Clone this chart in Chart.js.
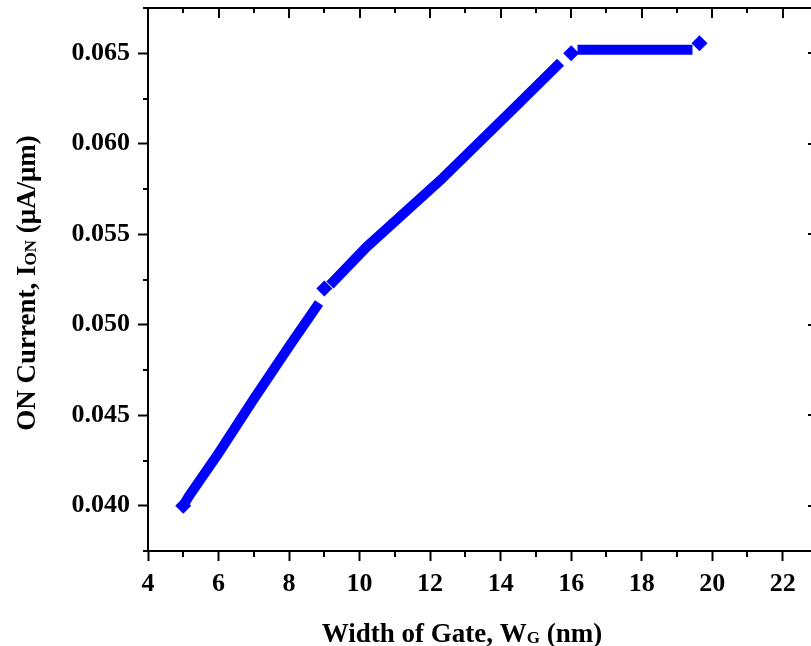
<!DOCTYPE html>
<html>
<head>
<meta charset="utf-8">
<script src="https://cdn.jsdelivr.net/npm/chart.js@4"></script>
<style>
  html, body { margin: 0; padding: 0; background: #fff; }
  #wrap { width: 811px; height: 646px; overflow: hidden; }
</style>
</head>
<body>
<div id="wrap"><canvas id="ioncurve" width="830" height="646"></canvas></div>
<script>
// gate width (nm) vs ON current (uA/um), three sweep segments
const lowW = [5.0, 5.15, 6.0, 7.0, 8.0, 8.85];
const lowI = [0.0400, 0.0405, 0.0429, 0.0459, 0.0488, 0.0512];
const midW = [9.16, 10.2, 12.3, 14.45, 15.7];
const midI = [0.0522, 0.0543, 0.0580, 0.0621, 0.0645];
const highW = [16.18, 19.44];
const highI = [0.0652, 0.0652];
// end points drawn as diamonds
const markW = [5.0, 9.0, 16.0, 19.64];
const markI = [0.0400, 0.0520, 0.0650, 0.06555];

// labelled ticks
const xTicks = [4, 6, 8, 10, 12, 14, 16, 18, 20, 22];
const yTicks = [0.040, 0.045, 0.050, 0.055, 0.060, 0.065];

const FONT = "'Liberation Serif', 'Times New Roman', serif";
const BLUE = "#0000ff";

function pts(xs, ys) {
  return xs.map((x, i) => ({ x: x, y: ys[i] }));
}

function segment(xs, ys) {
  return {
    type: "line",
    data: pts(xs, ys),
    borderColor: BLUE,
    borderWidth: 10,
    borderCapStyle: "butt",
    pointRadius: 0,
    tension: 0,
  };
}

// minor ticks sit halfway between the labelled ones
function minors(list, lo, hi) {
  const step = list[1] - list[0];
  const out = [];
  for (let i = -1; i < list.length; i++) {
    const v = list[0] + (i + 0.5) * step;
    if (v >= lo && v <= hi) out.push(v);
  }
  return out;
}

// minor ticks, top/right frame and the axis titles
const frame = {
  id: "frame",
  afterDraw(chart) {
    const ctx = chart.ctx;
    const a = chart.chartArea;
    const xs = chart.scales.x;
    const ys = chart.scales.y;
    ctx.save();
    ctx.strokeStyle = "#000";
    ctx.lineWidth = 2;
    ctx.beginPath();
    ctx.moveTo(a.left - 1, a.top);
    ctx.lineTo(a.right + 1, a.top);
    ctx.moveTo(a.right, a.top);
    ctx.lineTo(a.right, a.bottom);

    xTicks.forEach(v => {
      const px = Math.round(xs.getPixelForValue(v));
      ctx.moveTo(px, a.top);
      ctx.lineTo(px, a.top + 10);
    });
    minors(xTicks, xs.min, xs.max).forEach(v => {
      const px = Math.round(xs.getPixelForValue(v));
      ctx.moveTo(px, a.bottom);
      ctx.lineTo(px, a.bottom + 6);
      ctx.moveTo(px, a.top);
      ctx.lineTo(px, a.top + 5);
    });
    yTicks.forEach(v => {
      const py = Math.round(ys.getPixelForValue(v));
      ctx.moveTo(a.right, py);
      ctx.lineTo(a.right - 10, py);
    });
    minors(yTicks, ys.min, ys.max).forEach(v => {
      const py = Math.round(ys.getPixelForValue(v));
      ctx.moveTo(a.left, py);
      ctx.lineTo(a.left - 5, py);
      ctx.moveTo(a.right, py);
      ctx.lineTo(a.right - 5, py);
    });
    ctx.stroke();

    // titles with small-cap subscripts
    ctx.fillStyle = "#000";
    ctx.textBaseline = "alphabetic";
    function runs(parts) {
      let w = 0;
      parts.forEach(p => {
        ctx.font = "bold " + p[1] + "px " + FONT;
        w += ctx.measureText(p[0]).width;
      });
      return w;
    }
    function put(parts, cx, base) {
      let x = cx - runs(parts) / 2;
      parts.forEach(p => {
        ctx.font = "bold " + p[1] + "px " + FONT;
        ctx.fillText(p[0], x, base + (p[2] || 0));
        x += ctx.measureText(p[0]).width;
      });
    }
    put([["Width of Gate, W", 27], ["G", 17, 1], [" (nm)", 27]], 462, 642);

    ctx.translate(35, 283);
    ctx.rotate(-Math.PI / 2);
    put([["ON Current, I", 27], ["ON", 17, 1], [" (\u03bcA/\u03bcm)", 27]], 0, 0);
    ctx.restore();
  },
};

const ctx = document.getElementById("ioncurve").getContext("2d");

new Chart(ctx, {
  data: {
    datasets: [
      segment(lowW, lowI),
      segment(midW, midI),
      segment(highW, highI),
      {
        type: "scatter",
        data: pts(markW, markI),
        backgroundColor: BLUE,
        borderColor: BLUE,
        pointStyle: "rectRot",
        pointRadius: 8,
        borderWidth: 0,
      },
    ],
  },
  options: {
    responsive: false,
    animation: false,
    devicePixelRatio: 1,
    layout: { autoPadding: false, padding: { left: 0, top: 8, right: 12, bottom: 0 } },
    plugins: { legend: { display: false }, tooltip: { enabled: false } },
    scales: {
      x: {
        type: "linear",
        min: 4,
        max: 23,
        afterFit(s) {
          s.height = 95;
          s.paddingLeft = 0;
          s.paddingRight = 0;
        },
        afterBuildTicks(s) { s.ticks = xTicks.map(v => ({ value: v })); },
        ticks: {
          padding: 8,
          color: "#000",
          font: { family: FONT, size: 26, weight: "bold" },
          maxRotation: 0,
          autoSkip: false,
          callback: v => String(v),
        },
        grid: { drawOnChartArea: false, tickLength: 10, tickWidth: 2, tickColor: "#000" },
        border: { display: true, color: "#000", width: 2 },
      },
      y: {
        type: "linear",
        min: 0.0375,
        max: 0.0675,
        afterFit(s) {
          s.width = 148;
          s.paddingTop = 0;
          s.paddingBottom = 0;
        },
        afterBuildTicks(s) { s.ticks = yTicks.map(v => ({ value: v })); },
        ticks: {
          padding: 8,
          color: "#000",
          font: { family: FONT, size: 26, weight: "bold" },
          autoSkip: false,
          callback: v => v.toFixed(3),
        },
        grid: { drawOnChartArea: false, tickLength: 10, tickWidth: 2, tickColor: "#000" },
        border: { display: true, color: "#000", width: 2 },
      },
    },
  },
  plugins: [frame],
});
</script>
</body>
</html>
